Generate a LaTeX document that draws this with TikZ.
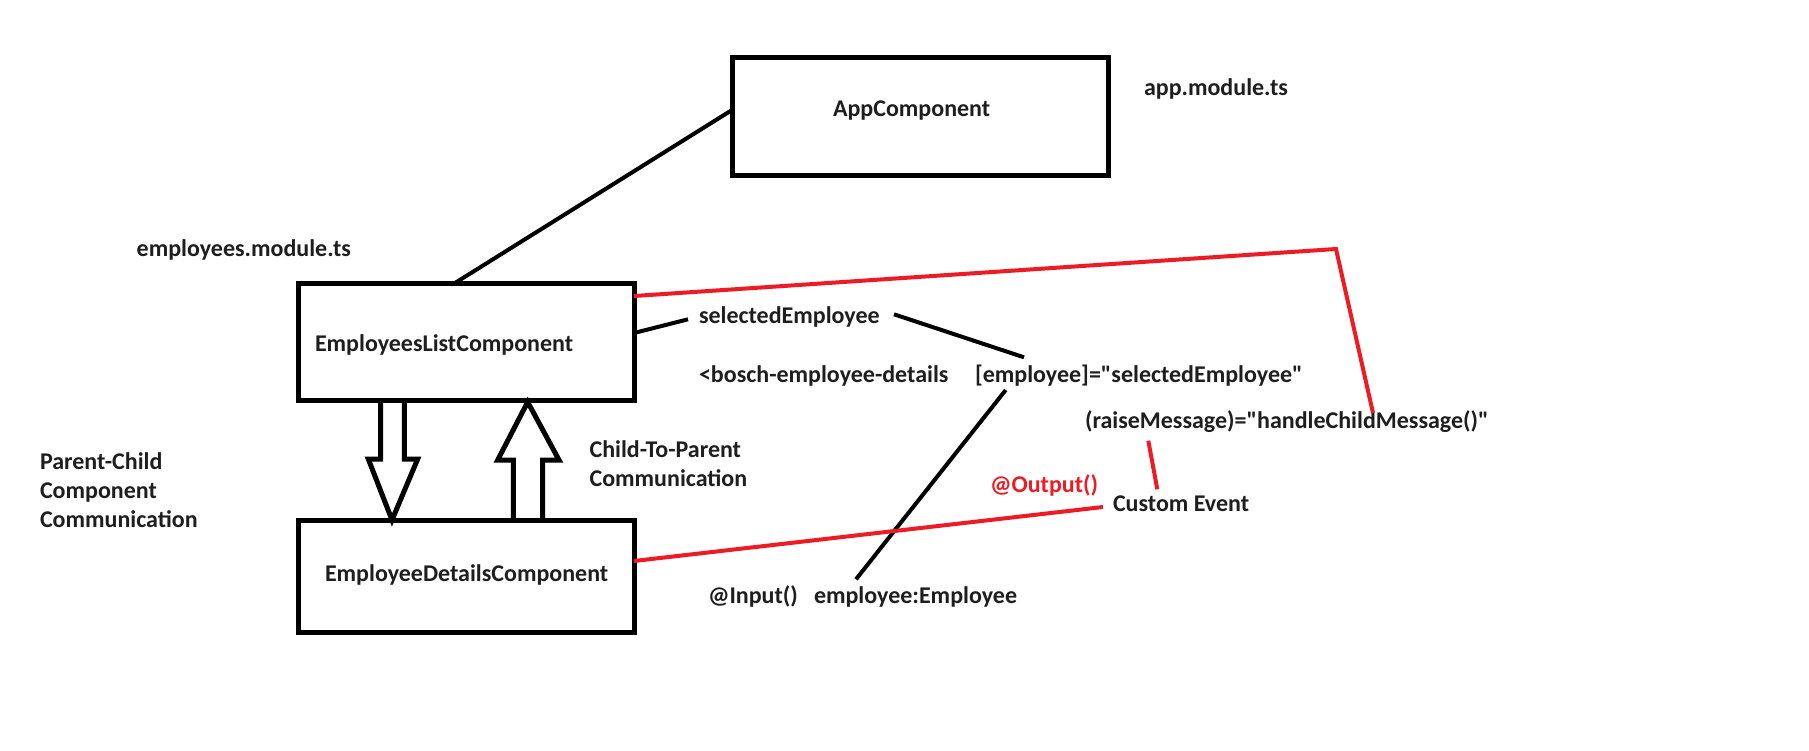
\documentclass[tikz,border=0pt]{standalone}
\usepackage{fontspec}
\setmainfont{Carlito}[Ligatures=TeXOff]
\usetikzlibrary{calc}
\definecolor{pred}{HTML}{ED1C24}
\definecolor{ptext}{HTML}{1E1E1E}
\begin{document}
\begin{tikzpicture}[x=0.5pt,y=-0.5pt,
  box/.style={draw=black,line width=2.5pt,inner sep=0pt,outer sep=0pt},
  lbl/.style={anchor=west,inner sep=0pt,outer sep=0pt,text=ptext,
    font=\fontsize{12}{14.5}\selectfont\bfseries,text height=8.6pt,text depth=2.5pt},
  mlbl/.style={anchor=west,inner sep=0pt,outer sep=0pt,text=ptext,
    font=\fontsize{12}{14.5}\selectfont\bfseries,align=left},
  link/.style={draw=black,line width=2pt},
  rlink/.style={draw=pred,line width=2pt},
  barrow/.style={draw=black,line width=2.5pt,line join=miter}
]
\fill[white] (0,0) rectangle (1809,750);
\useasboundingbox (0,0) rectangle (1809,750);

% boxes
\node[box,minimum width=188pt,minimum height=59pt] (app) at (920,116) {};
\node[box,minimum width=168pt,minimum height=58.5pt] (list) at (466,341.5) {};
\node[box,minimum width=168pt,minimum height=56pt] (details) at (466,576) {};

% labels
\node[lbl] (tapp) at (833,110.7) {AppComponent};
\node[lbl] (tappmod) at (1144,89) {app.module.ts};
\node[lbl] (tempmod) at (136.7,250) {employees.module.ts};
\node[lbl] (tlist) at (315,345) {EmployeesListComponent};
\node[lbl] (tdetails) at (325,575) {EmployeeDetailsComponent};
\node[mlbl] (tpc) at (40,490.5) {Parent-Child\\Component\\Communication};
\node[mlbl] (tctp) at (589.6,464) {Child-To-Parent\\Communication};
\node[lbl] (tsel) at (699,317.7) {selectedEmployee};
\node[lbl] (tbosch) at (699,376) {<bosch-employee-details};
\node[lbl] (tbind) at (975,376.5) {[employee]="selectedEmployee"};
\node[lbl] (traise) at (1085,422.7) {(raiseMessage)="handleChildMessage()"};
\node[lbl,text=pred] (tout) at (990,486.7) {@Output()};
\node[lbl] (tcustom) at (1113,505) {Custom Event};
\node[lbl] (tinput) at (708,597.3) {@Input()};
\node[lbl] (temp) at (814,597) {employee:Employee};

% free ends
\coordinate (c1) at (688,319.3);
\coordinate (c2) at (894,314.3);
\coordinate (c3) at (1024,357.3);
\coordinate (c4) at (1005.7,390);
\coordinate (c5) at (856,579.3);
\coordinate (c6) at (1336,249);
\coordinate (c7) at (1373,413);
\coordinate (c8) at (1148.3,440.7);
\coordinate (c9) at (1157.3,489.3);
\coordinate (c10) at (1103,507);

% black connectors
\draw[link] ([yshift=3pt]app.west) -- ([xshift=-5.5pt]list.north);
\draw[link] ([yshift=4.25pt]list.east) -- (c1);
\draw[link] (c2) -- (c3);
\draw[link] (c4) -- (c5);

% red connectors
\draw[rlink] ([yshift=22.75pt]list.east) -- (c6) -- (c7);
\draw[rlink] (c8) -- (c9);
\draw[rlink] ([yshift=7.5pt]details.east) -- (c10);

% block arrows
\draw[barrow] ($(list.south)+(-85.3,0)$) -- ++(0,59) -- ++(-12.4,0)
  -- ($(details.north)+(-74,0)$) -- ++(25.7,-61) -- ++(-13.4,0)
  -- ($(list.south)+(-61.7,0)$);
\draw[barrow] ($(details.north)+(47.3,0)$) -- ++(0,-60) -- ++(-15.6,0)
  -- ($(list.south)+(61.7,2)$) -- ++(31.3,58) -- ++(-16.3,0)
  -- ($(details.north)+(76.7,0)$);
\end{tikzpicture}
\end{document}
